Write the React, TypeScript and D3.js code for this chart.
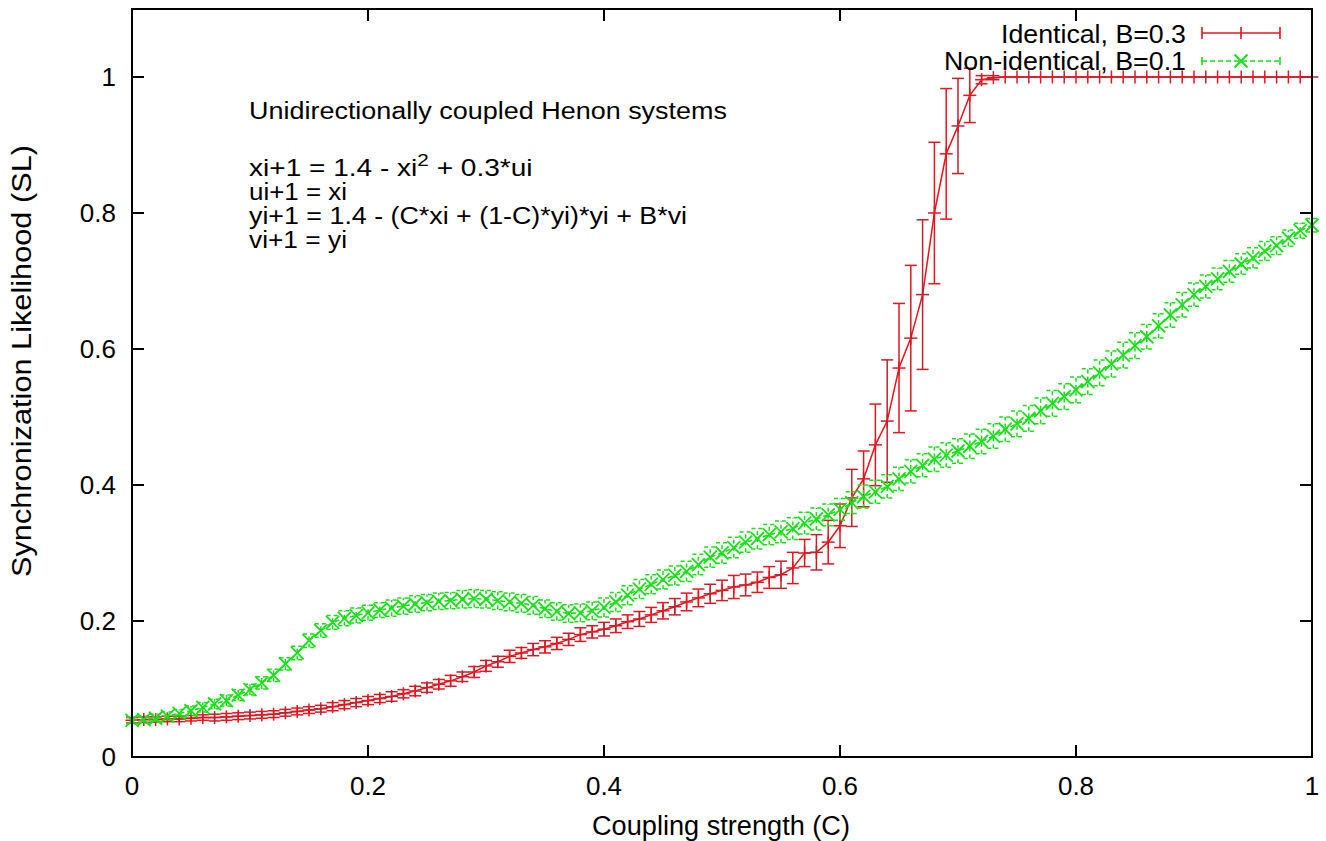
import React from "react";
import * as d3 from "d3";

// coupling strength C = 0.00 .. 1.00, step 0.01
const couplingStep = 0.01;

const identicalSL = [
  0.054, 0.055, 0.055, 0.056, 0.056, 0.057, 0.058, 0.058, 0.059, 0.060,
  0.061, 0.062, 0.063, 0.065, 0.067, 0.069, 0.071, 0.074, 0.077, 0.080,
  0.083, 0.086, 0.089, 0.093, 0.097, 0.102, 0.107, 0.112, 0.118, 0.125,
  0.134, 0.140, 0.148, 0.153, 0.158, 0.162, 0.167, 0.173, 0.180, 0.184,
  0.188, 0.193, 0.199, 0.203, 0.209, 0.215, 0.221, 0.228, 0.234, 0.240,
  0.245, 0.250, 0.253, 0.257, 0.264, 0.268, 0.278, 0.300, 0.301, 0.316,
  0.340, 0.381, 0.409, 0.459, 0.494, 0.572, 0.616, 0.680, 0.800, 0.887,
  0.928, 0.973, 0.996, 0.999, 1.0, 1.0, 1.0, 1.0, 1.0, 1.0,
  1.0, 1.0, 1.0, 1.0, 1.0, 1.0, 1.0, 1.0, 1.0, 1.0,
  1.0, 1.0, 1.0, 1.0, 1.0, 1.0, 1.0, 1.0, 1.0, 1.0,
  1.0,
];

const identicalErr = [
  0.004, 0.004, 0.004, 0.004, 0.004, 0.004, 0.004, 0.005, 0.005, 0.005,
  0.005, 0.005, 0.005, 0.005, 0.005, 0.005, 0.005, 0.006, 0.006, 0.006,
  0.006, 0.006, 0.007, 0.006, 0.007, 0.007, 0.007, 0.008, 0.007, 0.008,
  0.008, 0.008, 0.009, 0.008, 0.009, 0.009, 0.009, 0.009, 0.010, 0.009,
  0.010, 0.010, 0.010, 0.011, 0.011, 0.012, 0.012, 0.013, 0.013, 0.014,
  0.015, 0.017, 0.016, 0.015, 0.016, 0.020, 0.023, 0.020, 0.026, 0.032,
  0.032, 0.042, 0.041, 0.060, 0.090, 0.095, 0.107, 0.110, 0.104, 0.096,
  0.070, 0.040, 0.006, 0.003, 0.0, 0.0, 0.0, 0.0, 0.0, 0.0,
  0.0, 0.0, 0.0, 0.0, 0.0, 0.0, 0.0, 0.0, 0.0, 0.0,
  0.0, 0.0, 0.0, 0.0, 0.0, 0.0, 0.0, 0.0, 0.0, 0.0,
  0.0,
];

const nonIdenticalSL = [
  0.054, 0.055, 0.057, 0.060, 0.064, 0.068, 0.073, 0.078, 0.083, 0.091,
  0.099, 0.109, 0.120, 0.137, 0.153, 0.171, 0.186, 0.198, 0.204, 0.208,
  0.212, 0.216, 0.219, 0.222, 0.225, 0.227, 0.229, 0.230, 0.232, 0.233,
  0.232, 0.230, 0.228, 0.226, 0.223, 0.218, 0.214, 0.211, 0.212, 0.215,
  0.220, 0.228, 0.238, 0.247, 0.254, 0.261, 0.267, 0.273, 0.283, 0.294,
  0.300, 0.308, 0.316, 0.321, 0.327, 0.331, 0.336, 0.344, 0.350, 0.356,
  0.364, 0.374, 0.383, 0.390, 0.398, 0.409, 0.420, 0.429, 0.438, 0.444,
  0.450, 0.457, 0.464, 0.472, 0.482, 0.490, 0.498, 0.509, 0.520, 0.530,
  0.540, 0.552, 0.565, 0.578, 0.591, 0.605, 0.618, 0.634, 0.650, 0.665,
  0.680, 0.692, 0.703, 0.714, 0.725, 0.734, 0.744, 0.752, 0.763, 0.774,
  0.782,
];

const nonIdenticalErr = [
  0.005, 0.005, 0.006, 0.006, 0.006, 0.007, 0.007, 0.007, 0.008, 0.008,
  0.008, 0.009, 0.009, 0.009, 0.010, 0.010, 0.010, 0.010, 0.011, 0.011,
  0.011, 0.011, 0.012, 0.012, 0.012, 0.012, 0.012, 0.012, 0.013, 0.013,
  0.013, 0.013, 0.013, 0.013, 0.013, 0.013, 0.013, 0.013, 0.013, 0.013,
  0.014, 0.014, 0.014, 0.014, 0.014, 0.014, 0.014, 0.015, 0.015, 0.015,
  0.015, 0.015, 0.015, 0.015, 0.015, 0.016, 0.016, 0.016, 0.016, 0.016,
  0.016, 0.016, 0.017, 0.017, 0.017, 0.017, 0.017, 0.017, 0.018, 0.018,
  0.018, 0.018, 0.018, 0.018, 0.018, 0.019, 0.019, 0.019, 0.019, 0.019,
  0.019, 0.019, 0.019, 0.019, 0.019, 0.019, 0.018, 0.018, 0.018, 0.018,
  0.017, 0.017, 0.016, 0.016, 0.015, 0.015, 0.014, 0.013, 0.012, 0.011,
  0.010,
];

const xTicks = [0, 0.2, 0.4, 0.6, 0.8, 1];
const yTicks = [0, 0.2, 0.4, 0.6, 0.8, 1];

const seriesLabels = ["Identical, B=0.3", "Non-identical, B=0.1"];
const annotationTitle = "Unidirectionally coupled Henon systems";

const RED = "#e8141e";
const RED_DARK = "#c4202c";
const GREEN = "#18e018";
const FONT = "'Liberation Sans', Arial, sans-serif";

export default function App() {
  const W = 1326, H = 841;
  const m = { left: 132, right: 1312, top: 9, bottom: 757 };

  const x = d3.scaleLinear().domain([0, 1]).range([m.left, m.right]);
  const y = d3.scaleLinear().domain([0, 1.1]).range([m.bottom, m.top]);

  const red = identicalSL.map((v, i) => ({ c: i * couplingStep, v, e: identicalErr[i] }));
  const green = nonIdenticalSL.map((v, i) => ({ c: i * couplingStep, v, e: nonIdenticalErr[i] }));

  const line = d3.line<{ c: number; v: number }>().x(d => x(d.c)).y(d => y(d.v));

  const cap = 6;
  const mk = 6.5;
  const tickLen = 12;
  const fmt = d3.format("~g");

  return (
    <svg width={W} height={H} style={{ position: "absolute", left: 0, top: 0, background: "#fff" }}
      fontFamily={FONT}>
      {/* ticks, mirrored on all four sides */}
      <g stroke="#000" strokeWidth={2}>
        {xTicks.map(t => (
          <g key={"x" + t}>
            <line x1={x(t)} x2={x(t)} y1={m.bottom} y2={m.bottom - tickLen} />
            <line x1={x(t)} x2={x(t)} y1={m.top} y2={m.top + tickLen} />
          </g>
        ))}
        {yTicks.map(t => (
          <g key={"y" + t}>
            <line x1={m.left} x2={m.left + tickLen} y1={y(t)} y2={y(t)} />
            <line x1={m.right} x2={m.right - tickLen} y1={y(t)} y2={y(t)} />
          </g>
        ))}
      </g>
      <g fontSize={26} fill="#000">
        {xTicks.map(t => (
          <text key={"xl" + t} x={x(t)} y={m.bottom + 38} textAnchor="middle">{fmt(t)}</text>
        ))}
        {yTicks.map(t => (
          <text key={"yl" + t} x={m.left - 16} y={y(t) + 9} textAnchor="end">{fmt(t)}</text>
        ))}
      </g>
      <g fontSize={27} fill="#000">
        <text x={721} y={835} textAnchor="middle" textLength={258} lengthAdjust="spacingAndGlyphs">
          Coupling strength (C)
        </text>
        <text transform="translate(31,361) rotate(-90)" textAnchor="middle"
          textLength={432} lengthAdjust="spacingAndGlyphs">
          Synchronization Likelihood (SL)
        </text>
      </g>

      {/* annotation */}
      <g fontSize={23} fill="#000">
        <text x={249} y={119} textLength={478} lengthAdjust="spacingAndGlyphs">{annotationTitle}</text>
        <g transform="translate(249,176) scale(1.22,1)">
          <text x={0} y={0}>
            xi+1 = 1.4 - xi<tspan dy={-10} fontSize={17}>2</tspan><tspan dy={10}> + 0.3*ui</tspan>
          </text>
        </g>
        <text x={249} y={200} textLength={98} lengthAdjust="spacingAndGlyphs">ui+1 = xi</text>
        <text x={249} y={224} textLength={438} lengthAdjust="spacingAndGlyphs">
          yi+1 = 1.4 - (C*xi + (1-C)*yi)*yi + B*vi
        </text>
        <text x={249} y={248} textLength={98} lengthAdjust="spacingAndGlyphs">vi+1 = yi</text>
      </g>

      {/* identical: solid line, error bars, + points */}
      <g>
        <path d={line(red) || ""} fill="none" stroke={RED} strokeWidth={1.5} />
        {red.map((d, i) => (
          <g key={"r" + i} stroke={i % 3 === 1 ? RED_DARK : RED} strokeWidth={1.5}>
            {d.e > 0.002 && (
              <>
                <line x1={x(d.c)} x2={x(d.c)} y1={y(d.v - d.e)} y2={y(d.v + d.e)} />
                <line x1={x(d.c) - cap} x2={x(d.c) + cap} y1={y(d.v - d.e)} y2={y(d.v - d.e)} />
                <line x1={x(d.c) - cap} x2={x(d.c) + cap} y1={y(d.v + d.e)} y2={y(d.v + d.e)} />
              </>
            )}
            <line x1={x(d.c) - mk} x2={x(d.c) + mk} y1={y(d.v)} y2={y(d.v)} />
            <line x1={x(d.c)} x2={x(d.c)} y1={y(d.v) - mk} y2={y(d.v) + mk} />
          </g>
        ))}
      </g>

      {/* non-identical: dashed line, dashed error bars, x points */}
      <g>
        <path d={line(green) || ""} fill="none" stroke={GREEN} strokeWidth={1.6} strokeDasharray="5,3" />
        {green.map((d, i) => (
          <g key={"g" + i} stroke={GREEN} strokeWidth={1.5}>
            <g strokeDasharray="4,3">
              <line x1={x(d.c)} x2={x(d.c)} y1={y(d.v - d.e)} y2={y(d.v + d.e)} />
              <line x1={x(d.c) - cap} x2={x(d.c) + cap} y1={y(d.v - d.e)} y2={y(d.v - d.e)} />
              <line x1={x(d.c) - cap} x2={x(d.c) + cap} y1={y(d.v + d.e)} y2={y(d.v + d.e)} />
            </g>
            <line x1={x(d.c) - mk} x2={x(d.c) + mk} y1={y(d.v) - mk} y2={y(d.v) + mk} strokeWidth={1.8} />
            <line x1={x(d.c) - mk} x2={x(d.c) + mk} y1={y(d.v) + mk} y2={y(d.v) - mk} strokeWidth={1.8} />
          </g>
        ))}
      </g>

      {/* legend */}
      <g fontSize={25} fill="#000">
        <text x={1186} y={43} textAnchor="end" textLength={185} lengthAdjust="spacingAndGlyphs">
          {seriesLabels[0]}
        </text>
        <text x={1186} y={70} textAnchor="end" textLength={242} lengthAdjust="spacingAndGlyphs">
          {seriesLabels[1]}
        </text>
      </g>
      <g stroke={RED} strokeWidth={1.6}>
        <line x1={1202} x2={1280} y1={33} y2={33} />
        <line x1={1202} x2={1202} y1={27} y2={39} />
        <line x1={1280} x2={1280} y1={27} y2={39} />
        <line x1={1241} x2={1241} y1={27} y2={39} />
      </g>
      <g stroke={GREEN} strokeWidth={1.6}>
        <line x1={1202} x2={1280} y1={61} y2={61} strokeDasharray="5,3" />
        <line x1={1202} x2={1202} y1={57} y2={65} />
        <line x1={1280} x2={1280} y1={57} y2={65} />
        <line x1={1241 - mk} x2={1241 + mk} y1={61 - mk} y2={61 + mk} strokeWidth={2} />
        <line x1={1241 - mk} x2={1241 + mk} y1={61 + mk} y2={61 - mk} strokeWidth={2} />
      </g>

      {/* frame */}
      <rect x={m.left} y={m.top} width={m.right - m.left} height={m.bottom - m.top}
        fill="none" stroke="#000" strokeWidth={2} />
    </svg>
  );
}
